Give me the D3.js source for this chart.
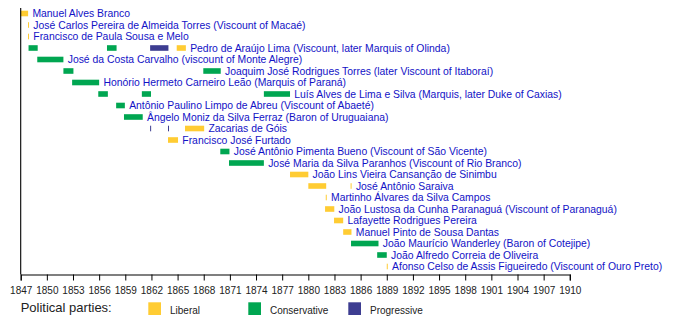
<!DOCTYPE html>
<html>
<head>
<meta charset="utf-8">
<script src="https://cdn.jsdelivr.net/npm/d3@7"></script>
<style>
  html, body { margin: 0; padding: 0; background: #fff; }
  svg { display: block; font-family: "Liberation Sans", Arial, Helvetica, sans-serif; }
</style>
</head>
<body>
<svg id="chart" width="700" height="324"></svg>
<script>
// ---- Data ----
const ministers = [
  "Manuel Alves Branco",
  "José Carlos Pereira de Almeida Torres (Viscount of Macaé)",
  "Francisco de Paula Sousa e Melo",
  "Pedro de Araújo Lima (Viscount, later Marquis of Olinda)",
  "José da Costa Carvalho (viscount of Monte Alegre)",
  "Joaquim José Rodrigues Torres (later Viscount of Itaboraí)",
  "Honório Hermeto Carneiro Leão (Marquis of Paraná)",
  "Luís Alves de Lima e Silva (Marquis, later Duke of Caxias)",
  "Antônio Paulino Limpo de Abreu (Viscount of Abaeté)",
  "Ângelo Moniz da Silva Ferraz (Baron of Uruguaiana)",
  "Zacarias de Góis",
  "Francisco José Furtado",
  "José Antônio Pimenta Bueno (Viscount of São Vicente)",
  "José Maria da Silva Paranhos (Viscount of Rio Branco)",
  "João Lins Vieira Cansanção de Sinimbu",
  "José Antônio Saraiva",
  "Martinho Álvares da Silva Campos",
  "João Lustosa da Cunha Paranaguá (Viscount of Paranaguá)",
  "Lafayette Rodrigues Pereira",
  "Manuel Pinto de Sousa Dantas",
  "João Maurício Wanderley (Baron of Cotejipe)",
  "João Alfredo Correia de Oliveira",
  "Afonso Celso de Assis Figueiredo (Viscount of Ouro Preto)"
];

// Each term: row index (minister), start year, end year, party
const termRow   = [0, 1, 2, 3, 3, 3, 3, 4, 5, 5, 6, 7, 7, 7, 8, 9, 10, 10, 10, 11, 12, 13, 14, 15, 15, 16, 17, 18, 19, 20, 21, 22];
const termStart = [1847.0, 1847.84, 1847.84, 1847.9, 1856.9, 1861.85, 1864.9, 1848.9, 1851.9, 1867.95, 1852.9, 1855.9, 1860.9, 1874.9, 1857.95, 1858.85, 1861.85, 1863.9, 1865.85, 1863.9, 1869.9, 1870.9, 1877.9, 1880.0, 1884.85, 1882.0, 1881.92, 1882.95, 1884.0, 1884.9, 1887.9, 1889.0];
const termEnd   = [1847.85, 1847.95, 1847.95, 1848.95, 1858.0, 1863.95, 1865.95, 1851.9, 1853.05, 1869.95, 1856.0, 1857.0, 1861.95, 1877.9, 1858.95, 1861.0, 1861.95, 1864.0, 1868.05, 1865.05, 1870.95, 1874.9, 1880.0, 1882.05, 1884.95, 1882.1, 1882.98, 1884.0, 1884.95, 1888.05, 1889.0, 1889.1];
const termParty = ["Liberal", "Liberal", "Liberal", "Conservative", "Conservative", "Progressive", "Liberal", "Conservative", "Conservative", "Conservative", "Conservative", "Conservative", "Conservative", "Conservative", "Conservative", "Conservative", "Progressive", "Progressive", "Liberal", "Liberal", "Conservative", "Conservative", "Liberal", "Liberal", "Liberal", "Liberal", "Liberal", "Liberal", "Liberal", "Conservative", "Conservative", "Liberal"];

const parties = ["Liberal", "Conservative", "Progressive"];
const partyColors = ["#ffcc33", "#00a651", "#3d3d91"];
const tickYears = d3.range(1847, 1911, 3);
const legendTitle = "Political parties:";

// ---- Layout ----
const svg = d3.select("#chart");
const x = d3.scaleLinear().domain([1847, 1910]).range([20.7, 569.8]);
const rowStep = 11.5;
const y = d3.scaleLinear().domain([0, ministers.length - 1]).range([13.5, 13.5 + rowStep * (ministers.length - 1)]);
const color = d3.scaleOrdinal().domain(parties).range(partyColors);
const barH = 5.6;
const axisY = 274.5;

const terms = termRow.map((r, i) => ({row: r, start: termStart[i], end: termEnd[i], party: termParty[i]}));

// bars
svg.append("g").selectAll("rect").data(terms).join("rect")
  .attr("x", d => x(d.start))
  .attr("y", d => y(d.row) - barH / 2)
  .attr("width", d => Math.max(1, x(d.end) - x(d.start)))
  .attr("height", barH)
  .attr("fill", d => color(d.party));

// labels after last bar of each row
const lastEnd = d3.rollup(terms, v => d3.max(v, d => Math.max(x(d.end), x(d.start) + 1)), d => d.row);
svg.append("g").selectAll("text").data(ministers).join("text")
  .attr("x", (d, i) => lastEnd.get(i) + 4.3)
  .attr("y", (d, i) => y(i) + 3.5)
  .attr("font-size", "10.4px")
  .attr("fill", "#1212c6")
  .text(d => d);

// y axis line
svg.append("line")
  .attr("x1", x(1847)).attr("x2", x(1847))
  .attr("y1", 8).attr("y2", axisY)
  .attr("stroke", "#000").attr("stroke-width", 1.1);

// x axis
const xAxis = d3.axisBottom(x).tickValues(tickYears).tickFormat(d3.format("d")).tickSize(6).tickPadding(6);
const gx = svg.append("g").attr("transform", `translate(0,${axisY})`).call(xAxis);
gx.select(".domain").attr("stroke", "#000").attr("stroke-width", 1.1);
gx.selectAll(".tick line").attr("stroke", "#000");
gx.selectAll(".tick text").attr("font-size", "10px").attr("fill", "#222")
  .attr("font-family", "'Liberation Sans', Arial, sans-serif");

// legend
svg.append("text").attr("x", 20.7).attr("y", 311.5).attr("font-size", "13px").attr("fill", "#222").text(legendTitle);
const lg = svg.append("g").selectAll("g").data(parties).join("g")
  .attr("transform", (d, i) => `translate(${148.3 + i * 100},302.3)`);
lg.append("rect").attr("width", 12.7).attr("height", 12.7).attr("fill", d => color(d));
lg.append("text").attr("x", 21.7).attr("y", 11.8).attr("font-size", "10px").attr("fill", "#222").text(d => d);
</script>
</body>
</html>
